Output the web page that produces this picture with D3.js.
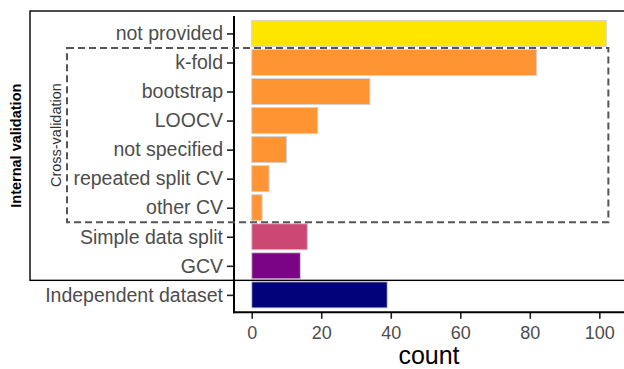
<!DOCTYPE html>
<html>
<head>
<meta charset="utf-8">
<script src="https://cdn.jsdelivr.net/npm/d3@7"></script>
<style>
  html, body { margin: 0; padding: 0; background: #fff; }
  svg { display: block; font-family: "Liberation Sans", Arial, sans-serif; }
</style>
</head>
<body>
<svg id="chart" width="624" height="369"></svg>
<script>
// Validation approaches, top to bottom
const categories = [
  "not provided", "k-fold", "bootstrap", "LOOCV", "not specified",
  "repeated split CV", "other CV", "Simple data split", "GCV", "Independent dataset"
];
const counts = [102, 82, 34, 19, 10, 5, 3, 16, 14, 39];
const groups = [
  "not provided", "Cross-validation", "Cross-validation", "Cross-validation",
  "Cross-validation", "Cross-validation", "Cross-validation",
  "Simple data split", "GCV", "Independent dataset"
];
const groupNames = ["not provided", "Cross-validation", "Simple data split", "GCV", "Independent dataset"];
const groupColors = ["#FFE600", "#FF9433", "#CC4874", "#7A0386", "#02027A"];
const xTicks = [0, 20, 40, 60, 80, 100];

const svg = d3.select("#chart");

const panel = { left: 234, right: 624, top: 16, bottom: 312.3 };

// Continuous count axis with ggplot-style 5% expansion
const maxCount = d3.max(counts);
const x = d3.scaleLinear()
  .domain([-0.05 * maxCount, 1.05 * maxCount])
  .range([panel.left, panel.right]);

// Discrete category axis: positions 1..n with 0.6 expansion
const pos = d3.scaleLinear()
  .domain([0.4, categories.length + 0.6])
  .range([panel.top, panel.bottom]);
const step = pos(2) - pos(1);
const barH = step * 0.9;

const color = d3.scaleOrdinal().domain(groupNames).range(groupColors);

// Bars
svg.append("g")
  .selectAll("rect")
  .data(categories)
  .join("rect")
  .attr("x", x(0))
  .attr("y", (d, i) => pos(i + 1) - barH / 2)
  .attr("width", (d, i) => x(counts[i]) - x(0))
  .attr("height", barH)
  .attr("fill", (d, i) => color(groups[i]))
  .attr("stroke", "#d4d4d4")
  .attr("stroke-width", 1);

// Y axis (categories)
const yAxis = d3.axisLeft(d3.scaleOrdinal().domain(categories).range(categories.map((c, i) => pos(i + 1))))
  .tickSize(7)
  .tickPadding(4);
const gy = svg.append("g")
  .attr("transform", `translate(${panel.left},0)`)
  .call(yAxis);
gy.select(".domain").remove();
gy.selectAll(".tick line").attr("stroke", "#222").attr("stroke-width", 1.6);
gy.selectAll(".tick text")
  .attr("fill", "#4d4d4d")
  .style("font-size", "19.5px");

// X axis (counts)
const xAxis = d3.axisBottom(x).tickValues(xTicks).tickSize(6.5).tickPadding(7);
const gx = svg.append("g")
  .attr("transform", `translate(0,${panel.bottom})`)
  .call(xAxis);
gx.select(".domain").remove();
gx.selectAll(".tick line").attr("stroke", "#222").attr("stroke-width", 1.6);
gx.selectAll(".tick text")
  .attr("fill", "#4d4d4d")
  .style("font-size", "18px");

// Axis lines
svg.append("line")
  .attr("x1", panel.left).attr("x2", panel.left)
  .attr("y1", panel.top).attr("y2", panel.bottom + 1)
  .attr("stroke", "#000").attr("stroke-width", 2);
svg.append("line")
  .attr("x1", panel.left - 1).attr("x2", panel.right)
  .attr("y1", panel.bottom).attr("y2", panel.bottom)
  .attr("stroke", "#000").attr("stroke-width", 2);

// Axis title
svg.append("text")
  .attr("x", (panel.left + panel.right) / 2)
  .attr("y", 364)
  .attr("text-anchor", "middle")
  .style("font-size", "25px")
  .attr("fill", "#000")
  .text("count");

// Internal validation bracket box
const ivTop = 11;
const ivBottom = pos(9.5);
svg.append("rect")
  .attr("x", 30)
  .attr("y", ivTop)
  .attr("width", 640)
  .attr("height", ivBottom - ivTop)
  .attr("fill", "none")
  .attr("stroke", "#000")
  .attr("stroke-width", 1.4);
svg.append("text")
  .attr("transform", `translate(20.5,${(ivTop + ivBottom) / 2}) rotate(-90)`)
  .attr("text-anchor", "middle")
  .style("font-size", "14.5px")
  .style("font-weight", "bold")
  .attr("fill", "#000")
  .text("Internal validation");

// Cross-validation dashed box
const cvTop = pos(1.5);
const cvBottom = pos(7.5);
svg.append("rect")
  .attr("x", 67)
  .attr("y", cvTop)
  .attr("width", x(102.6) - 67)
  .attr("height", cvBottom - cvTop)
  .attr("fill", "none")
  .attr("stroke", "#555")
  .attr("stroke-width", 2)
  .attr("stroke-dasharray", "7,4");
svg.append("text")
  .attr("transform", `translate(60.5,${(cvTop + cvBottom) / 2}) rotate(-90)`)
  .attr("text-anchor", "middle")
  .style("font-size", "14.5px")
  .attr("fill", "#333")
  .text("Cross-validation");
</script>
</body>
</html>
